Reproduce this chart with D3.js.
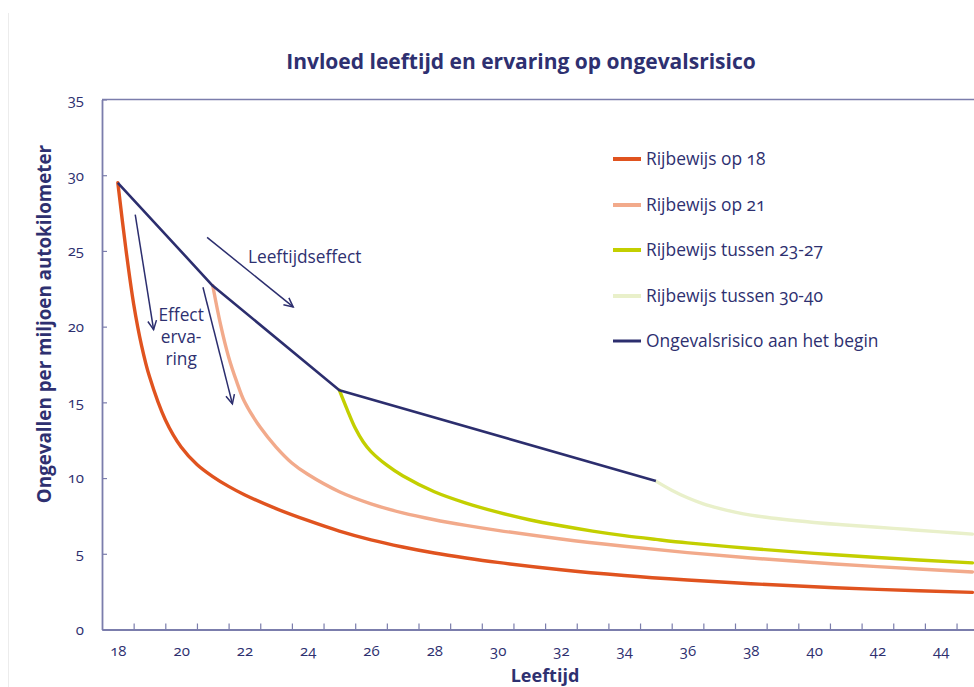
<!DOCTYPE html>
<html>
<head>
<meta charset="utf-8">
<script src="https://cdn.jsdelivr.net/npm/d3@7"></script>
<style>
  html, body { margin: 0; padding: 0; background: #fff; }
  svg { display: block; font-family: "Open Sans", Lato, sans-serif; font-variant-numeric: oldstyle-nums; }
</style>
</head>
<body>
<svg id="chart" width="974" height="687"></svg>
<script>
// ---------- data ----------
const title = "Invloed leeftijd en ervaring op ongevalsrisico";
const xTitle = "Leeftijd";
const yTitle = "Ongevallen per miljoen autokilometer";

const seriesNames = ["Rijbewijs op 18", "Rijbewijs op 21", "Rijbewijs tussen 23-27", "Rijbewijs tussen 30-40", "Ongevalsrisico aan het begin"];
const seriesColors = ["#e0531f", "#f2aa8b", "#c3cf00", "#e9f0ca", "#2c2e6e"];

const ages18 =   [18, 18.25, 18.5, 18.75, 19, 19.5, 20, 20.5, 21, 21.5, 22, 23, 24, 25, 26, 27, 28, 29, 30, 32, 34, 36, 38, 40, 42, 45];
const values18 = [29.5, 25.2, 21.5, 18.75, 16.7, 13.85, 12.05, 10.9, 10.1, 9.45, 8.9, 7.98, 7.2, 6.5, 5.92, 5.45, 5.05, 4.72, 4.43, 3.95, 3.57, 3.27, 3.02, 2.82, 2.65, 2.45];

const ages21 =   [21, 21.25, 21.5, 21.75, 22, 22.5, 23, 23.5, 24, 25, 26, 27, 28, 29, 30, 32, 34, 36, 38, 40, 42, 45];
const values21 = [22.7, 20.1, 18.0, 16.4, 15.05, 13.35, 12.05, 11.0, 10.25, 9.1, 8.3, 7.7, 7.25, 6.88, 6.55, 5.98, 5.5, 5.08, 4.72, 4.42, 4.15, 3.8];

const ages2327 =   [25, 25.25, 25.5, 25.75, 26, 26.5, 27, 28, 29, 30, 31, 32, 33, 34, 35, 36, 38, 40, 42, 45];
const values2327 = [15.8, 14.5, 13.3, 12.4, 11.75, 10.85, 10.15, 9.1, 8.35, 7.75, 7.25, 6.85, 6.5, 6.2, 5.95, 5.72, 5.35, 5.03, 4.75, 4.4];

const ages3040 =   [35, 35.5, 36, 36.5, 37, 37.5, 38, 39, 40, 41, 42, 43, 44, 45];
const values3040 = [9.8, 9.2, 8.7, 8.3, 8.0, 7.75, 7.55, 7.28, 7.07, 6.9, 6.75, 6.6, 6.45, 6.3];

const agesStart =   [18, 21, 25, 35];
const valuesStart = [29.5, 22.7, 15.8, 9.8];

const yTicks = [0, 5, 10, 15, 20, 25, 30, 35];
const xLabels = [18, 20, 22, 24, 26, 28, 30, 32, 34, 36, 38, 40, 42, 44];
const xTickMarks = d3.range(18.5, 46, 1);

// annotations: [ageFrom, valueFrom, ageTo, valueTo]
const arrows = [
  [18.55, 27.4, 19.13, 19.8],
  [20.69, 22.6, 21.62, 14.9],
  [20.82, 25.9, 23.54, 21.3]
];
const annotationTexts = [
  {lines: ["Effect", "erva-", "ring"], age: 20.0, value: 20.38, anchor: "middle"},
  {lines: ["Leeftijdseffect"], age: 22.11, value: 24.2, anchor: "start"}
];

// ---------- layout ----------
const svg = d3.select("#chart");
const navy = "#2c2e6e";
const textColor = "#2e3070";
const axisColor = "#7b7dac";

const x = d3.scaleLinear().domain([17.5, 45.5]).range([102, 102 + 28 * 31.65]);
const y = d3.scaleLinear().domain([0, 35]).range([629.5, 99.5]);

// faint frame line on the left
svg.append("line").attr("x1", 8.5).attr("x2", 8.5).attr("y1", 13).attr("y2", 687)
  .attr("stroke", "#ececec").attr("stroke-width", 1);

// title
svg.append("text").attr("x", 521).attr("y", 69).attr("text-anchor", "middle")
  .attr("font-size", 21).attr("font-weight", 700).attr("fill", textColor).text(title);

// top border of plot
svg.append("line").attr("x1", x(17.5)).attr("x2", x(45.5)).attr("y1", y(35)).attr("y2", y(35))
  .attr("stroke", axisColor).attr("stroke-width", 1.5);

// y axis
const yAxis = svg.append("g").attr("transform", `translate(${x(17.5)},0)`)
  .call(d3.axisLeft(y).tickValues(yTicks).tickSizeInner(-5).tickSizeOuter(0).tickPadding(18));
yAxis.select(".domain").attr("stroke", axisColor).attr("stroke-width", 1.8);
yAxis.selectAll(".tick line").attr("stroke", axisColor).attr("stroke-width", 1.2);
yAxis.selectAll(".tick text").attr("fill", textColor).attr("font-size", 15).attr("font-family", "\"Open Sans\", sans-serif");

// x axis tick marks
const xAxisTicks = svg.append("g").attr("transform", `translate(0,${y(0)})`)
  .call(d3.axisBottom(x).tickValues(xTickMarks).tickSizeInner(-6).tickSizeOuter(0).tickFormat(""));
xAxisTicks.select(".domain").attr("stroke", axisColor).attr("stroke-width", 1.8);
xAxisTicks.selectAll(".tick line").attr("stroke", axisColor).attr("stroke-width", 1.2);

// x axis labels
const xAxisLabels = svg.append("g").attr("transform", `translate(0,${y(0)})`)
  .call(d3.axisBottom(x).tickValues(xLabels).tickSize(0).tickPadding(16).tickFormat(d3.format("d")));
xAxisLabels.select(".domain").remove();
xAxisLabels.selectAll(".tick text").attr("fill", textColor).attr("font-size", 15).attr("font-family", "\"Open Sans\", sans-serif");

// axis titles
svg.append("text").attr("x", 545).attr("y", 682).attr("text-anchor", "middle")
  .attr("font-size", 18).attr("font-weight", 700).attr("fill", textColor).text(xTitle);
svg.append("text").attr("transform", "translate(51,324) rotate(-90)").attr("text-anchor", "middle")
  .attr("font-size", 18.8).attr("font-weight", 700).attr("fill", textColor).text(yTitle);

// lines
const line = d3.line().x(d => x(d[0])).y(d => y(d[1])).curve(d3.curveCatmullRom.alpha(0.5));
const series = [
  [ages18, values18],
  [ages21, values21],
  [ages2327, values2327],
  [ages3040, values3040]
];
series.forEach((s, i) => {
  svg.append("path").datum(d3.zip(s[0], s[1])).attr("d", line)
    .attr("fill", "none").attr("stroke", seriesColors[i]).attr("stroke-width", 3.4)
    .attr("stroke-linejoin", "round").attr("stroke-linecap", "round");
});
svg.append("path").datum(d3.zip(agesStart, valuesStart)).attr("d", d3.line().x(d => x(d[0])).y(d => y(d[1])))
  .attr("fill", "none").attr("stroke", seriesColors[4]).attr("stroke-width", 2.6)
  .attr("stroke-linejoin", "round");

// arrows
arrows.forEach(a => {
  const x1 = x(a[0]), y1 = y(a[1]), x2 = x(a[2]), y2 = y(a[3]);
  const ang = Math.atan2(y2 - y1, x2 - x1);
  const len = 10, spread = 0.45;
  svg.append("line").attr("x1", x1).attr("y1", y1).attr("x2", x2).attr("y2", y2)
    .attr("stroke", navy).attr("stroke-width", 1.5);
  const p = d3.path();
  p.moveTo(x2 - len * Math.cos(ang - spread), y2 - len * Math.sin(ang - spread));
  p.lineTo(x2, y2);
  p.lineTo(x2 - len * Math.cos(ang + spread), y2 - len * Math.sin(ang + spread));
  svg.append("path").attr("d", p.toString()).attr("fill", "none").attr("stroke", navy).attr("stroke-width", 1.5);
});

// annotation texts
annotationTexts.forEach(t => {
  const tx = svg.append("text").attr("x", x(t.age)).attr("y", y(t.value)).attr("text-anchor", t.anchor)
    .attr("font-size", 17.3).attr("fill", textColor);
  t.lines.forEach((l, i) => tx.append("tspan").attr("x", x(t.age)).attr("dy", i === 0 ? 0 : 22).text(l));
});

// legend
const legendY = [159, 205, 250, 296, 341];
const legend = svg.append("g");
seriesNames.forEach((n, i) => {
  legend.append("line").attr("x1", 613).attr("x2", 641).attr("y1", legendY[i]).attr("y2", legendY[i])
    .attr("stroke", seriesColors[i]).attr("stroke-width", i === 4 ? 3 : 4);
  legend.append("text").attr("x", 646).attr("y", legendY[i]).attr("dy", "0.35em")
    .attr("font-size", 17.4).attr("fill", textColor).text(n);
});
</script>
</body>
</html>
